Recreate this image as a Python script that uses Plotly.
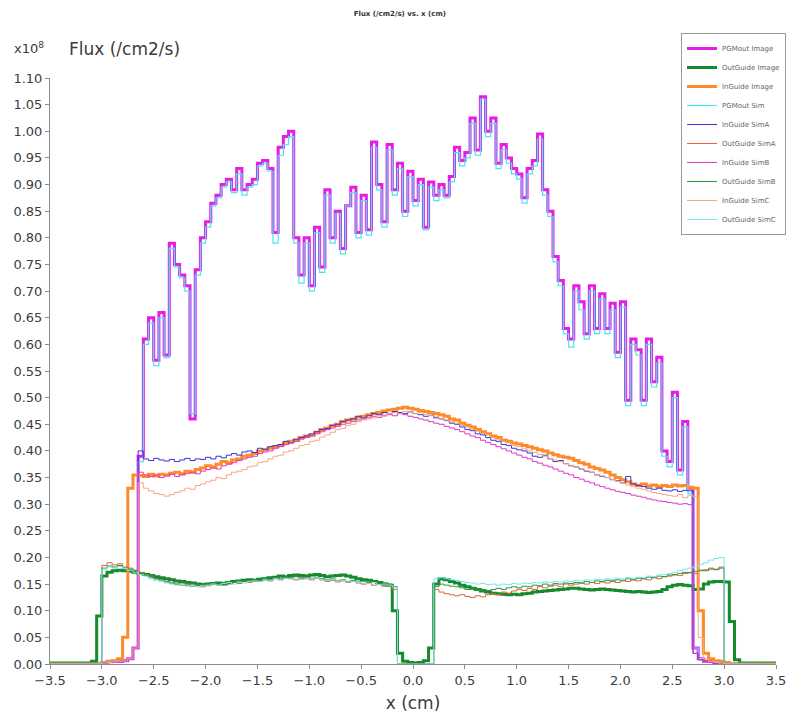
import numpy as np
import plotly.graph_objects as go

# Sample positions (cm): 0.05 cm bins from -3.5 to 3.5
x_cm = np.round(np.arange(-3.5, 3.5001, 0.05), 2)

# Flux values in units of 1e8 /cm2/s, one row per 0.5 cm
pgmout_image = [
    0, 0, 0, 0, 0, 0, 0, 0, 0, 0,
    .003, .004, .005, .005, .006, .01, .03, .39, .61, .65,
    .57, .66, .58, .79, .75, .73, .71, .46, .74, .80,
    .83, .865, .88, .90, .91, .89, .93, .89, .90, .91,
    .94, .945, .93, .81, .97, .99, 1.00, .80, .73, .80,
    .71, .82, .745, .89, .80, .85, .78, .86, .895, .81,
    .88, .815, .98, .90, .83, .975, .89, .94, .85, .925,
    .87, .91, .82, .905, .88, .90, .88, .915, .97, .945,
    .96, 1.025, .965, 1.065, 1.00, 1.025, .94, .975, .95, .93,
    .92, .875, .93, .945, .995, .89, .85, .765, .72, .63,
    .61, .71, .68, .62, .71, .63, .695, .63, .677, .585,
    .68, .495, .61, .59, .495, .61, .53, .576, .40, .38,
    .51, .364, .455, .33, .03, .01, .005, .005, .003, 0,
    0, 0, 0, 0, 0, 0, 0, 0, 0, 0,
    0,
]

outguide_image = [
    .002, .002, .002, .002, .002, .002, .002, .002, .005, .09,
    .165, .172, .175, .176, .175, .174, .172, .17, .168, .166,
    .164, .162, .16, .158, .156, .155, .153, .152, .15, .149,
    .15, .151, .152, .15, .153, .155, .156, .157, .158, .157,
    .159, .16, .162, .163, .165, .164, .166, .167, .166, .165,
    .167, .168, .166, .164, .165, .166, .167, .165, .163, .16,
    .158, .157, .155, .153, .15, .148, .10, .02, .005, .003,
    .002, .003, .006, .03, .15, .16, .158, .155, .152, .148,
    .145, .142, .14, .137, .135, .133, .132, .131, .13, .131,
    .13, .132, .133, .135, .136, .137, .138, .139, .14, .141,
    .142, .142, .141, .14, .139, .14, .141, .14, .139, .138,
    .137, .136, .135, .136, .135, .134, .135, .136, .14, .145,
    .148, .149, .148, .147, .14, .141, .15, .154, .155, .155,
    .154, .08, .008, .002, .002, .002, .002, .002, .002, .002,
    .002,
]

inguide_image = [
    0, 0, 0, 0, 0, 0, 0, 0, 0, 0,
    .003, .005, .006, .01, .05, .33, .355, .354, .352, .356,
    .353, .356, .355, .358, .36, .357, .362, .36, .365, .368,
    .372, .37, .375, .38, .378, .383, .385, .39, .392, .395,
    .40, .402, .405, .408, .41, .415, .418, .42, .425, .428,
    .43, .435, .44, .443, .447, .45, .455, .458, .46, .463,
    .465, .468, .47, .472, .475, .477, .478, .48, .482, .48,
    .478, .476, .474, .472, .47, .468, .465, .46, .458, .452,
    .448, .445, .44, .436, .432, .428, .425, .42, .418, .415,
    .413, .41, .408, .405, .402, .40, .396, .393, .39, .388,
    .386, .382, .378, .375, .37, .367, .364, .36, .355, .35,
    .346, .342, .338, .335, .338, .334, .336, .333, .335, .333,
    .336, .334, .335, .332, .33, .10, .02, .01, .006, .005,
    .003, 0, 0, 0, 0, 0, 0, 0, 0, 0,
    0,
]

pgmout_sim = [
    0, 0, 0, 0, 0, 0, 0, 0, 0, 0,
    .003, .004, .005, .005, .006, .01, .03, .38, .60, .64,
    .56, .65, .575, .78, .745, .725, .70, .47, .73, .79,
    .82, .86, .875, .895, .905, .885, .92, .88, .895, .90,
    .935, .94, .925, .79, .955, .975, .99, .79, .715, .79,
    .70, .81, .735, .88, .79, .845, .77, .86, .885, .80,
    .87, .805, .97, .89, .82, .965, .88, .93, .84, .915,
    .86, .90, .815, .895, .87, .89, .875, .905, .96, .935,
    .95, 1.015, .955, 1.06, .99, 1.015, .93, .965, .94, .92,
    .91, .865, .92, .935, .985, .88, .84, .755, .71, .62,
    .595, .70, .665, .61, .70, .62, .685, .62, .665, .575,
    .67, .485, .60, .58, .485, .60, .52, .565, .39, .37,
    .50, .355, .445, .32, .03, .01, .005, .004, .003, 0,
    0, 0, 0, 0, 0, 0, 0, 0, 0, 0,
    0,
]

inguide_sima = [
    0, 0, 0, 0, 0, 0, 0, 0, 0, 0,
    .002, .003, .004, .004, .006, .01, .03, .40, .385, .382,
    .386, .383, .381, .384, .38, .383, .386, .382, .385, .384,
    .388, .385, .39, .387, .392, .395, .392, .398, .40, .397,
    .405, .403, .408, .41, .412, .418, .415, .422, .425, .428,
    .432, .436, .44, .442, .448, .45, .455, .458, .46, .465,
    .462, .466, .47, .468, .472, .47, .474, .472, .47, .473,
    .47, .468, .465, .467, .462, .46, .457, .452, .45, .445,
    .44, .438, .432, .43, .425, .42, .418, .412, .41, .405,
    .402, .40, .396, .39, .388, .392, .385, .38, .382, .376,
    .372, .37, .366, .362, .36, .355, .352, .35, .346, .344,
    .34, .352, .338, .335, .333, .33, .328, .33, .326, .325,
    .327, .324, .326, .325, .02, .008, .005, .004, .002, 0,
    0, 0, 0, 0, 0, 0, 0, 0, 0, 0,
    0,
]

outguide_sima = [
    0, 0, 0, 0, 0, 0, 0, 0, 0, 0,
    .185, .19, .186, .188, .182, .18, .176, .172, .168, .165,
    .16, .158, .155, .152, .15, .148, .15, .146, .148, .145,
    .147, .15, .148, .152, .15, .153, .151, .155, .153, .156,
    .155, .158, .156, .16, .158, .161, .16, .158, .162, .16,
    .158, .161, .158, .155, .157, .154, .156, .153, .155, .152,
    .15, .153, .148, .15, .146, .148, .14, 0, 0, 0,
    0, 0, 0, 0, .14, .135, .132, .13, .128, .13,
    .127, .125, .128, .126, .13, .132, .13, .135, .133, .137,
    .14, .138, .142, .14, .145, .143, .146, .148, .145, .15,
    .148, .15, .152, .15, .153, .151, .154, .152, .155, .153,
    .156, .155, .158, .156, .16, .158, .162, .16, .164, .165,
    .167, .166, .17, .172, .17, .175, .177, .18, .178, .182,
    0, 0, 0, 0, 0, 0, 0, 0, 0, 0,
    0,
]

inguide_simb = [
    0, 0, 0, 0, 0, 0, 0, 0, 0, 0,
    .002, .003, .004, .005, .006, .01, .03, .36, .355, .352,
    .355, .35, .353, .356, .352, .355, .358, .36, .357, .362,
    .365, .368, .366, .372, .375, .378, .382, .385, .388, .39,
    .395, .398, .40, .405, .408, .412, .415, .418, .422, .425,
    .428, .432, .436, .44, .443, .446, .45, .452, .455, .458,
    .46, .462, .465, .463, .467, .468, .466, .47, .468, .465,
    .463, .46, .458, .455, .452, .45, .446, .443, .44, .436,
    .432, .428, .425, .42, .416, .412, .408, .404, .40, .396,
    .392, .388, .385, .38, .377, .373, .37, .366, .362, .358,
    .355, .35, .347, .343, .34, .336, .333, .33, .327, .324,
    .322, .32, .317, .315, .313, .31, .308, .306, .305, .303,
    .302, .30, .301, .299, .02, .008, .005, .004, .002, 0,
    0, 0, 0, 0, 0, 0, 0, 0, 0, 0,
    0,
]

outguide_simb = [
    0, 0, 0, 0, 0, 0, 0, 0, 0, 0,
    .18, .184, .182, .185, .18, .178, .175, .17, .167, .163,
    .16, .158, .154, .152, .15, .152, .148, .15, .147, .149,
    .15, .152, .15, .153, .155, .153, .156, .155, .157, .158,
    .157, .16, .158, .162, .16, .163, .162, .164, .16, .163,
    .161, .163, .16, .158, .16, .157, .158, .155, .157, .154,
    .155, .152, .154, .15, .152, .15, .145, 0, 0, 0,
    0, 0, 0, 0, .145, .15, .148, .146, .145, .143,
    .14, .142, .138, .14, .138, .14, .142, .14, .143, .145,
    .143, .146, .145, .148, .147, .15, .148, .151, .15, .152,
    .151, .153, .152, .155, .153, .156, .155, .157, .156, .158,
    .157, .16, .158, .161, .16, .163, .162, .165, .164, .167,
    .168, .17, .172, .171, .174, .176, .175, .178, .177, .18,
    0, 0, 0, 0, 0, 0, 0, 0, 0, 0,
    0,
]

inguide_simc = [
    0, 0, 0, 0, 0, 0, 0, 0, 0, 0,
    .002, .003, .004, .005, .006, .01, .03, .34, .33, .325,
    .32, .318, .315, .318, .322, .325, .33, .328, .335, .338,
    .342, .345, .35, .348, .355, .36, .362, .365, .37, .372,
    .378, .38, .385, .39, .392, .398, .40, .405, .41, .412,
    .418, .42, .426, .43, .435, .44, .442, .448, .45, .455,
    .458, .46, .462, .466, .465, .47, .472, .47, .474, .472,
    .47, .472, .468, .466, .465, .46, .458, .455, .452, .448,
    .445, .44, .437, .433, .43, .425, .422, .418, .415, .41,
    .408, .404, .40, .397, .393, .39, .386, .383, .38, .376,
    .373, .37, .366, .363, .36, .356, .353, .35, .346, .343,
    .34, .336, .333, .33, .328, .325, .322, .32, .318, .316,
    .315, .318, .312, .316, .314, .05, .01, .005, .003, 0,
    0, 0, 0, 0, 0, 0, 0, 0, 0, 0,
    0,
]

outguide_simc = [
    0, 0, 0, 0, 0, 0, 0, 0, 0, 0,
    .178, .182, .18, .183, .179, .176, .172, .168, .165, .16,
    .157, .155, .152, .15, .148, .15, .146, .148, .145, .147,
    .148, .15, .148, .151, .153, .15, .154, .152, .155, .156,
    .155, .158, .156, .16, .158, .161, .16, .162, .159, .161,
    .16, .162, .158, .157, .159, .156, .157, .154, .155, .153,
    .154, .151, .153, .149, .15, .148, .144, 0, 0, 0,
    0, 0, 0, 0, .16, .162, .16, .158, .157, .155,
    .153, .152, .15, .151, .149, .15, .148, .15, .149, .151,
    .15, .152, .151, .153, .152, .154, .153, .155, .154, .156,
    .155, .157, .156, .158, .157, .159, .158, .16, .159, .161,
    .16, .162, .161, .163, .162, .165, .164, .167, .168, .17,
    .172, .175, .178, .18, .183, .187, .19, .195, .198, .20,
    0, 0, 0, 0, 0, 0, 0, 0, 0, 0,
    0,
]

series_names = [
    "PGMout Image", "OutGuide Image", "InGuide Image", "PGMout Sim",
    "InGuide SimA", "OutGuide SimA", "InGuide SimB", "OutGuide SimB",
    "InGuide SimC", "OutGuide SimC",
]
series_values = [
    pgmout_image, outguide_image, inguide_image, pgmout_sim,
    inguide_sima, outguide_sima, inguide_simb, outguide_simb,
    inguide_simc, outguide_simc,
]
series_colors = [
    "#e41ee4", "#168a2c", "#ff8a2a", "#4fe3ee",
    "#3434d8", "#e4623a", "#e236c8", "#2a963e",
    "#f4a880", "#78e4ee",
]
series_widths = [3, 3, 3, 1.2, 1, 1, 1, 1, 1, 1]

x_ticks = [-3.5, -3.0, -2.5, -2.0, -1.5, -1.0, -0.5, 0.0, 0.5, 1.0, 1.5, 2.0, 2.5, 3.0, 3.5]
y_ticks = [0.00, 0.05, 0.10, 0.15, 0.20, 0.25, 0.30, 0.35, 0.40, 0.45, 0.50, 0.55,
           0.60, 0.65, 0.70, 0.75, 0.80, 0.85, 0.90, 0.95, 1.00, 1.05, 1.10]

fig = go.Figure()
for name, vals, col, w in zip(series_names, series_values, series_colors, series_widths):
    fig.add_trace(go.Scatter(
        x=x_cm, y=vals, name=name, mode="lines",
        line=dict(color=col, width=w, shape="hv"),
    ))

axis_col = "#8c8c8c"
tick_font = dict(family="DejaVu Sans", size=13, color="#3c3c3c")

fig.update_layout(
    width=787, height=720,
    margin=dict(l=50, r=11, t=78, b=56, autoexpand=False),
    paper_bgcolor="white", plot_bgcolor="white",
    title=dict(text="<b>Flux (/cm2/s) vs. x (cm)</b>", x=0.508, xref="container",
               xanchor="center", y=0.981, yanchor="middle",
               font=dict(family="DejaVu Sans", size=7, color="#333333")),
    showlegend=True,
    legend=dict(x=1.0138, xanchor="right", y=1.0768, yanchor="top",
                bgcolor="white", bordercolor="#9a9a9a", borderwidth=1,
                font=dict(family="DejaVu Sans", size=7, color="#666666"),
                tracegroupgap=0),
    xaxis=dict(range=[-3.5, 3.5], tickvals=x_ticks, tickformat=".1f",
               showgrid=False, zeroline=False, showline=True, linecolor=axis_col,
               linewidth=1, ticks="outside", ticklen=4, tickcolor=axis_col,
               tickfont=tick_font,
               title=dict(text="x (cm)", standoff=10,
                          font=dict(family="DejaVu Sans", size=17, color="#3c3c3c"))),
    yaxis=dict(range=[0, 1.10], tickvals=y_ticks, tickformat=".2f",
               showgrid=False, zeroline=False, showline=True, linecolor=axis_col,
               linewidth=1, ticks="outside", ticklen=4, tickcolor=axis_col,
               tickfont=tick_font),
    xaxis2=dict(overlaying="x", matches="x", anchor="y", side="bottom",
                tickvals=x_ticks, ticks="inside", ticklen=4, tickcolor=axis_col,
                showticklabels=False, showline=False, showgrid=False, zeroline=False),
    yaxis2=dict(overlaying="y", matches="y", anchor="x", side="left",
                tickvals=y_ticks, ticks="inside", ticklen=4, tickcolor=axis_col,
                showticklabels=False, showline=False, showgrid=False, zeroline=False),
)

fig.add_annotation(text="x10<sup>8</sup>", xref="paper", yref="paper",
                   x=-0.052, y=1.052, xanchor="left", yanchor="middle", showarrow=False,
                   font=dict(family="DejaVu Sans", size=13, color="#3c3c3c"))
fig.add_annotation(text="Flux (/cm2/s)", xref="paper", yref="paper",
                   x=0.024, y=1.05, xanchor="left", yanchor="middle", showarrow=False,
                   font=dict(family="DejaVu Sans", size=17, color="#3c3c3c"))

fig.write_html("out.html")
